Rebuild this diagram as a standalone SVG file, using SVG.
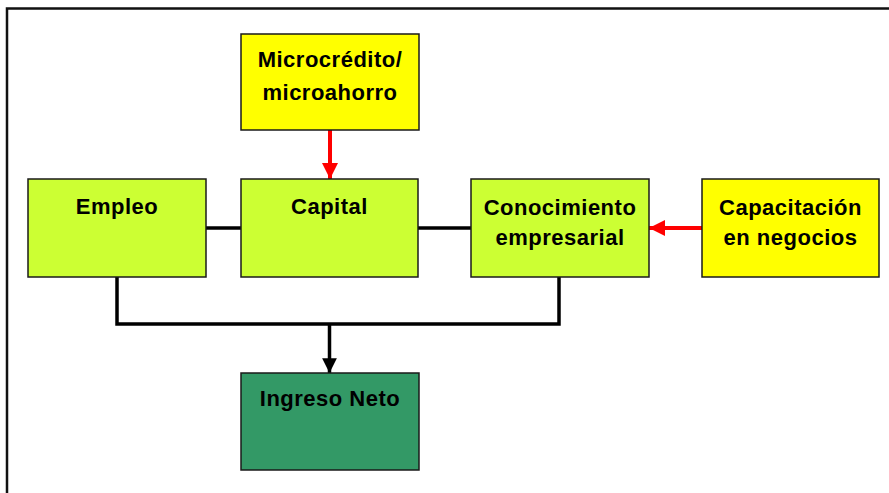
<svg xmlns="http://www.w3.org/2000/svg" width="889" height="493" viewBox="0 0 889 493">
<style>
.box{stroke:#1a1a1a;stroke-width:1.5}
.y{fill:#FFFF00}
.g{fill:#CCFF33}
.d{fill:#339966}
text{font-family:"Liberation Sans",Arial,sans-serif;font-weight:bold;font-size:22px;letter-spacing:0.5px;fill:#000;text-anchor:middle}
.blk{stroke:#000;stroke-width:3.5;fill:none}
.red{stroke:#FF0000;stroke-width:4;fill:none}
</style>
<defs>
<marker id="ar" viewBox="0 0 10 10" refX="10" refY="5" markerWidth="4" markerHeight="4" markerUnits="strokeWidth" orient="auto"><path d="M0,0 L10,5 L0,10 z" fill="#FF0000"/></marker>
<marker id="ab" viewBox="0 0 10 10" refX="10" refY="5" markerWidth="4.2" markerHeight="4.2" markerUnits="strokeWidth" orient="auto"><path d="M0,0 L10,5 L0,10 z" fill="#000"/></marker>
</defs>
<rect x="0" y="0" width="889" height="493" fill="#fff"/>
<rect x="7" y="8.5" width="900" height="500" fill="none" stroke="#111" stroke-width="2.5"/>
<g id="connectors">
<line class="blk" x1="206" y1="228" x2="241" y2="228"/>
<line class="blk" x1="418" y1="228" x2="471" y2="228"/>
<polyline class="blk" points="117,277 117,324 559,324 559,277"/>
<line class="blk" x1="329.5" y1="324" x2="329.5" y2="373" marker-end="url(#ab)"/>
<line class="red" x1="330" y1="130" x2="330" y2="179" marker-end="url(#ar)"/>
<line class="red" x1="702" y1="228" x2="649" y2="228" marker-end="url(#ar)"/>
</g>
<g id="microcredito">
<rect class="box y" x="241" y="34" width="178" height="96"/>
<text x="330" y="67">Microcrédito/</text>
<text x="330" y="100">microahorro</text>
</g>
<g id="empleo">
<rect class="box g" x="28" y="179" width="178" height="98"/>
<text x="117" y="214">Empleo</text>
</g>
<g id="capital">
<rect class="box g" x="241" y="179" width="177" height="98"/>
<text x="329.5" y="214">Capital</text>
</g>
<g id="conocimiento">
<rect class="box g" x="471" y="179" width="178" height="98"/>
<text x="560" y="215">Conocimiento</text>
<text x="560" y="245">empresarial</text>
</g>
<g id="capacitacion">
<rect class="box y" x="702" y="179" width="177" height="98"/>
<text x="790.5" y="215">Capacitación</text>
<text x="790.5" y="245">en negocios</text>
</g>
<g id="ingreso">
<rect class="box d" x="241" y="373" width="178" height="97"/>
<text x="330" y="406">Ingreso Neto</text>
</g>
</svg>
